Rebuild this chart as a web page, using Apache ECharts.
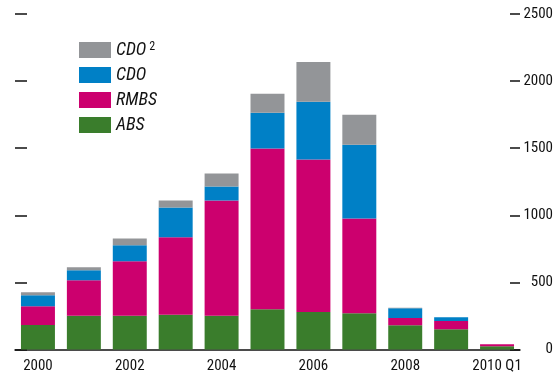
<!DOCTYPE html>
<html>
<head>
<meta charset="utf-8">
<title>Issuance</title>
<script src="https://cdn.jsdelivr.net/npm/echarts@6/dist/echarts.min.js"></script>
</head>
<body style="margin:0;background:#fff;">
<div id="main" style="width:557px;height:377px;"></div>
<script>
    var years = ['2000', '2001', '2002', '2003', '2004', '2005', '2006', '2007', '2008', '2009', '2010 Q1'];
    var abs  = [182, 251, 251, 259, 251, 300, 279, 270, 180, 150, 25];
    var rmbs = [141, 265, 406, 577, 860, 1197, 1136, 707, 54, 62, 15];
    var cdo  = [82, 75, 119, 222, 104, 267, 431, 549, 74, 29, 0];
    var cdo2 = [22, 22, 52, 53, 96, 141, 297, 224, 4, 0, 0];
    var yTicks = [0, 500, 1000, 1500, 2000, 2500];

    var font = '"Liberation Sans Narrow", "Roboto Condensed", "DejaVu Sans Condensed", sans-serif';

    function bar(name, data, color) {
        return {
            name: name,
            type: 'bar',
            stack: 'all',
            yAxisIndex: 1,
            barCategoryGap: '26%',
            itemStyle: { color: color },
            data: data
        };
    }

    var myChart = echarts.init(document.getElementById('main'));
    myChart.setOption({
        animation: false,
        textStyle: { fontFamily: font },
        grid: { left: 15, right: 37, top: 14, bottom: 27.5 },
        legend: {
            left: 74,
            top: 36,
            orient: 'vertical',
            icon: 'rect',
            itemWidth: 32,
            itemHeight: 16,
            itemGap: 7,
            data: ['CDO2', 'CDO', 'RMBS', 'ABS'],
            formatter: function (name) {
                if (name === 'CDO2') return '{n|CDO}{s|2}';
                return '{n|' + name + '}';
            },
            textStyle: {
                rich: {
                    n: { fontSize: 18, lineHeight: 18, fontStyle: 'italic', color: '#111', fontFamily: font },
                    s: { fontSize: 12, lineHeight: 12, color: '#111', verticalAlign: 'top', padding: [0, 0, 0, 3], fontFamily: font }
                }
            }
        },
        xAxis: {
            type: 'category',
            data: years,
            axisLine: { lineStyle: { color: '#111', width: 1.5 } },
            axisTick: { inside: true, length: 6, lineStyle: { color: '#111', width: 1.5 } },
            axisLabel: { interval: 1, color: '#111', fontSize: 15, margin: 9, fontFamily: font }
        },
        yAxis: [{
            type: 'value',
            position: 'left',
            min: 0, max: 2500, interval: 500,
            axisLine: { show: false },
            axisTick: {
                show: true, inside: true, length: 12,
                lineStyle: { color: '#111', width: 1.5 }
            },
            axisLabel: { show: false },
            splitLine: { show: false }
        }, {
            type: 'value',
            position: 'right',
            min: yTicks[0], max: yTicks[yTicks.length - 1], interval: 500,
            axisLine: { show: false },
            axisTick: {
                show: true, inside: true, length: 10,
                lineStyle: { color: '#111', width: 1.5 }
            },
            axisLabel: {
                color: '#111', fontSize: 15, align: 'right', margin: 33, fontFamily: font,
                formatter: function (v) { return String(v); }
            },
            splitLine: { show: false }
        }],
        series: [
            bar('ABS', abs, '#3a7d2c'),
            bar('RMBS', rmbs, '#cc006e'),
            bar('CDO', cdo, '#0080c6'),
            bar('CDO2', cdo2, '#939598')
        ]
    });
</script>
</body>
</html>
